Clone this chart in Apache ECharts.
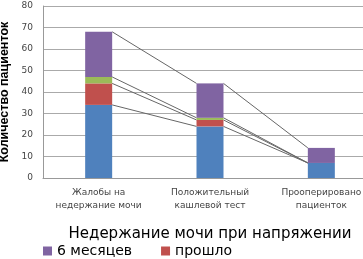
<!DOCTYPE html>
<html>
<head>
<meta charset="utf-8">
<script src="https://cdn.jsdelivr.net/npm/echarts@6/dist/echarts.min.js"></script>
<style>
  html, body { margin: 0; padding: 0; background: #fff; }
  #chart { width: 363px; height: 259px; }
</style>
</head>
<body>
<div id="chart"></div>
<script>
  // categories and stacked values
  var categories = ['Жалобы на\nнедержание мочи', 'Положительный\nкашлевой тест', 'Прооперировано\nпациенток'];
  var blueVals = [34, 24, 7];
  var redVals = [10, 3, 0];
  var greenVals = [3, 1, 0];
  var purpleVals = [21, 16, 7];
  var yTicks = [0, 10, 20, 30, 40, 50, 60, 70, 80];

  var barW = 27;
  var stacks = [blueVals, redVals, greenVals, purpleVals];

  // series-line data: top of each segment joined to the same level of the next bar
  var joinData = [];
  for (var i = 0; i < categories.length - 1; i++) {
    var a = 0, b = 0;
    stacks.forEach(function (s) {
      a += s[i];
      b += s[i + 1];
      joinData.push([i, a, b]);
    });
  }

  var chart = echarts.init(document.getElementById('chart'));
  chart.setOption({
    animation: false,
    textStyle: {fontFamily: 'DejaVu Sans'},
    grid: {left: 43, right: -14, top: 6, bottom: 81, outerBoundsMode: 'none', containLabel: false},
    legend: {
      data: ['6 месяцев', 'прошло'],
      left: 38,
      top: 239,
      itemWidth: 9,
      itemHeight: 9,
      itemGap: 29,
      icon: 'rect',
      textStyle: {fontSize: 14, color: '#000', fontFamily: 'DejaVu Sans'}
    },
    xAxis: {
      type: 'category',
      data: categories,
      name: 'Недержание мочи при напряжении',
      nameLocation: 'middle',
      nameGap: 49,
      nameTextStyle: {fontSize: 15, color: '#000'},
      axisTick: {show: false},
      axisLine: {lineStyle: {color: '#999'}},
      axisLabel: {fontSize: 9, color: '#444', lineHeight: 13, margin: 8, interval: 0}
    },
    yAxis: {
      type: 'value',
      min: yTicks[0],
      max: yTicks[yTicks.length - 1],
      interval: 10,
      name: 'Количество пациенток',
      nameLocation: 'middle',
      nameGap: 29,
      nameTextStyle: {fontSize: 12.5, fontWeight: 'bold', color: '#000', fontFamily: 'Liberation Sans'},
      axisLine: {show: true, lineStyle: {color: '#999'}},
      axisTick: {show: false},
      axisLabel: {fontSize: 9, color: '#444', margin: 10},
      splitLine: {lineStyle: {color: '#aaa'}}
    },
    series: [
      {name: 'исходно', type: 'bar', stack: 's', barWidth: barW, data: blueVals, itemStyle: {color: '#4F81BD'}},
      {name: 'прошло', type: 'bar', stack: 's', barWidth: barW, data: redVals, itemStyle: {color: '#C0504D'}},
      {name: 'сохранилось', type: 'bar', stack: 's', barWidth: barW, data: greenVals, itemStyle: {color: '#9BBB59'}},
      {name: '6 месяцев', type: 'bar', stack: 's', barWidth: barW, data: purpleVals, itemStyle: {color: '#8064A2'}},
      {
        name: 'линии',
        type: 'custom',
        silent: true,
        data: joinData,
        encode: {x: 0, y: 1},
        renderItem: function (params, api) {
          var p1 = api.coord([api.value(0), api.value(1)]);
          var p2 = api.coord([api.value(0) + 1, api.value(2)]);
          return {
            type: 'line',
            shape: {x1: p1[0] + barW / 2, y1: p1[1], x2: p2[0] - barW / 2, y2: p2[1]},
            style: {stroke: '#666', lineWidth: 1}
          };
        }
      }
    ]
  });
</script>
</body>
</html>
